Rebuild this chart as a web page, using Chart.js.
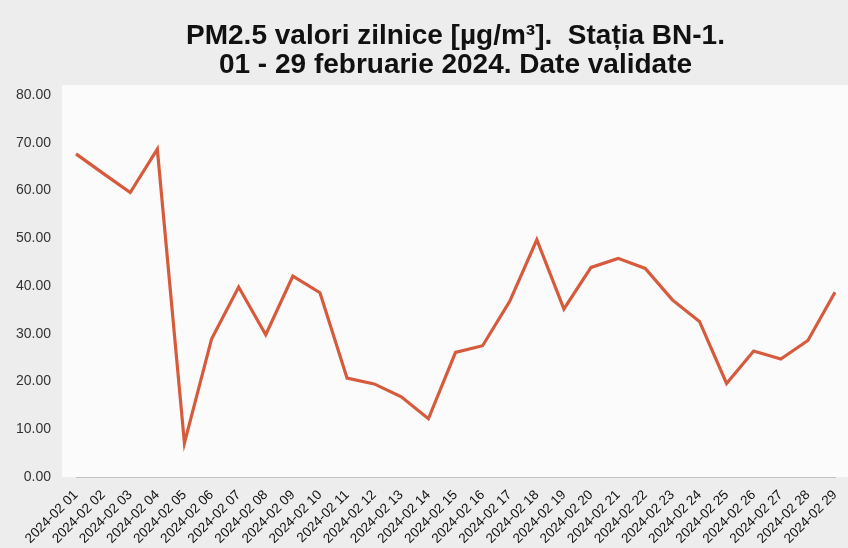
<!DOCTYPE html>
<html lang="ro">
<head>
  <meta charset="UTF-8">
  <title>PM2.5 valori zilnice BN-1</title>
  <script src="https://cdn.jsdelivr.net/npm/chart.js"></script>
  <style>
    body {
      margin: 0;
      background: #eeeeee;
    }
    .wrap {
      width: 848px;
      height: 548px;
    }
  </style>
</head>
<body>
<div class="wrap">
  <canvas id="pmChart" width="848" height="548"></canvas>
</div>

<script>
  const days = [
    '2024-02 01', '2024-02 02', '2024-02 03', '2024-02 04', '2024-02 05', '2024-02 06', '2024-02 07',
    '2024-02 08', '2024-02 09', '2024-02 10', '2024-02 11', '2024-02 12', '2024-02 13', '2024-02 14',
    '2024-02 15', '2024-02 16', '2024-02 17', '2024-02 18', '2024-02 19', '2024-02 20', '2024-02 21',
    '2024-02 22', '2024-02 23', '2024-02 24', '2024-02 25', '2024-02 26', '2024-02 27', '2024-02 28',
    '2024-02 29'
  ];
  const pm25 = [
    67.7, 63.6, 59.6, 68.7, 7.1, 28.9, 39.8, 29.8, 42.1, 38.6,
    20.7, 19.5, 16.8, 12.2, 26.1, 27.5, 36.8, 49.7, 35.2, 43.9,
    45.8, 43.7, 37.1, 32.6, 19.6, 26.4, 24.7, 28.6, 38.7
  ];
  const titleLines = [
    'PM2.5 valori zilnice [µg/m³].  Stația BN-1.',
    '01 - 29 februarie 2024. Date validate'
  ];

  // paper-ish backgrounds: grey margin, lighter plot area
  const paperBg = {
    id: 'paperBg',
    beforeDraw(chart) {
      const { ctx, chartArea: a } = chart;
      ctx.save();
      ctx.fillStyle = '#ededed';
      ctx.fillRect(0, 0, chart.width, chart.height);
      ctx.fillStyle = '#fbfbfb';
      ctx.fillRect(a.left - 14, a.top - 10, a.right - a.left + 28, a.bottom - a.top + 10);
      ctx.restore();
    }
  };

  const ctx = document.getElementById('pmChart').getContext('2d');
  new Chart(ctx, {
    type: 'line',
    data: {
      labels: days,
      datasets: [{
        label: 'PM2.5',
        data: pm25,
        borderColor: '#d65a3c',
        borderWidth: 3.2,
        pointRadius: 0,
        tension: 0,
        fill: false
      }]
    },
    options: {
      responsive: false,
      animation: false,
      layout: { padding: { left: 16, right: 13, top: 22, bottom: 0 } },
      plugins: {
        legend: { display: false },
        tooltip: { enabled: false },
        title: {
          display: true,
          fullSize: false,
          text: titleLines,
          color: '#111',
          font: { family: 'Liberation Sans, Arial, sans-serif', size: 28, weight: 'bold', lineHeight: 1.02 },
          padding: { top: 0, bottom: 16 }
        }
      },
      scales: {
        x: {
          offset: false,
          grid: { display: false, drawTicks: false },
          border: { display: true, color: '#c4c4c4', width: 1 },
          ticks: {
            autoSkip: false,
            maxRotation: 45,
            minRotation: 45,
            padding: 10,
            color: '#111',
            font: { family: 'Liberation Sans, Arial, sans-serif', size: 13.5 }
          },
          // rotated first label hangs left of the axis; don't let it push the plot right
          afterFit(scale) {
            scale.paddingLeft = 0;
            scale.paddingRight = 0;
            scale.height = 71;
          }
        },
        y: {
          min: 0,
          max: 80,
          grid: { display: false, drawTicks: false },
          border: { display: false },
          afterFit(scale) {
            scale.width = 60;
          },
          ticks: {
            stepSize: 10,
            padding: 25,
            color: '#333',
            font: { family: 'Liberation Sans, Arial, sans-serif', size: 14 },
            callback: v => v.toFixed(2)
          }
        }
      }
    },
    plugins: [paperBg]
  });
</script>
</body>
</html>
